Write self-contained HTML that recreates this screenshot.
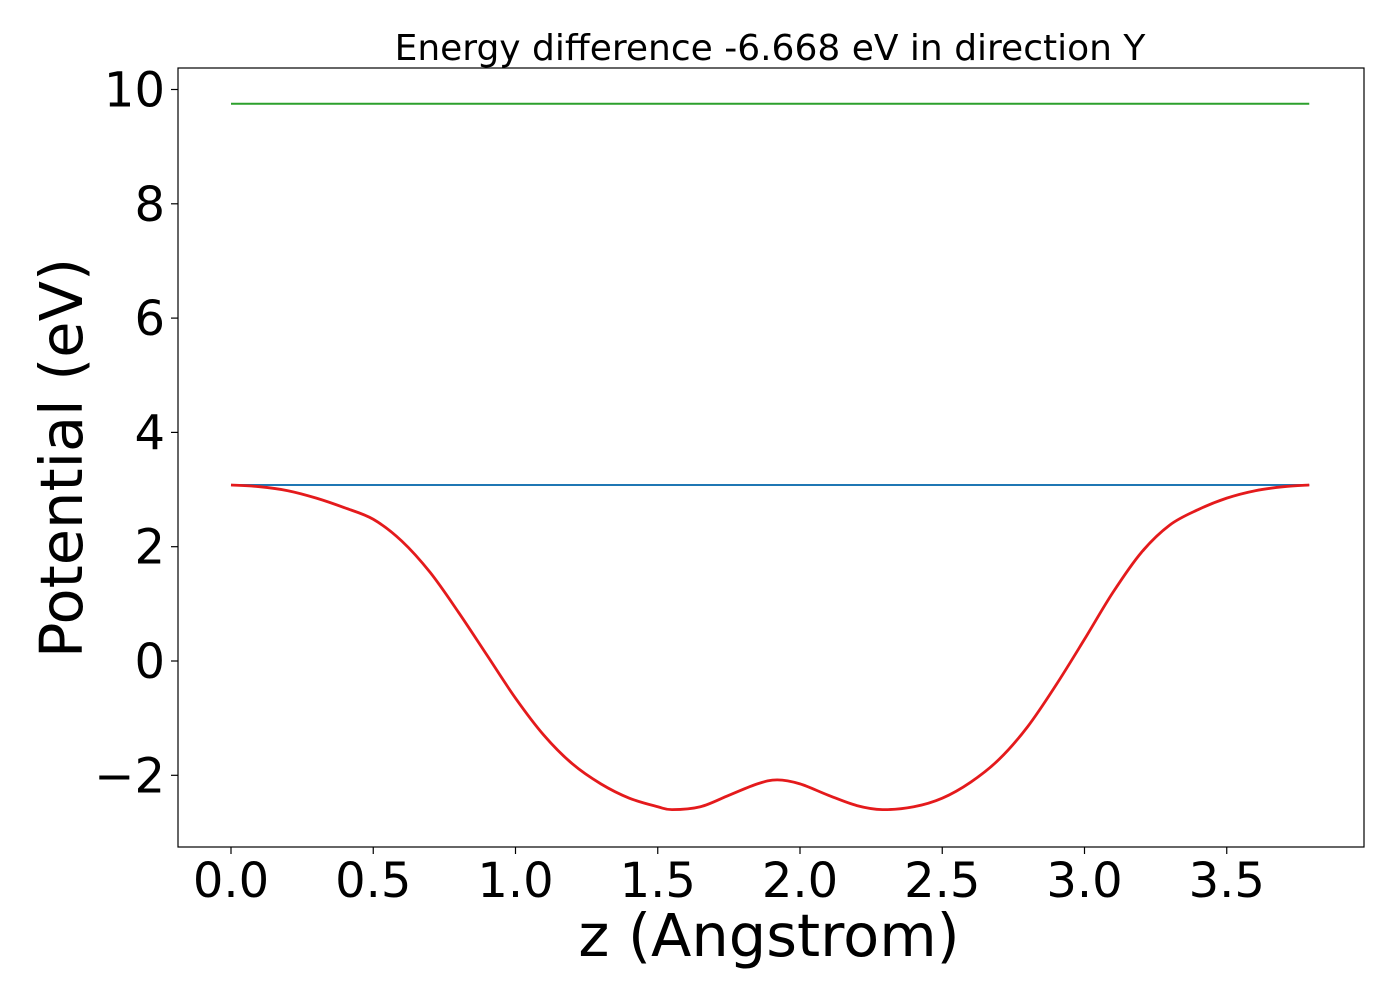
<!DOCTYPE html>
<html><head><meta charset="utf-8"><style>
html,body{margin:0;padding:0;background:#fff;}
svg{display:block;font-family:"DejaVu Sans","Liberation Sans",sans-serif;}
</style></head><body>
<svg id="chart" width="1400" height="1000">
<rect x="0" y="0" width="1400" height="1000" fill="#fff"/>
<text x="770" y="60" font-size="36" text-anchor="middle">Energy difference -6.668 eV in direction Y</text>
<g id="marks"></g>
<rect x="178" y="68" width="1186" height="779" fill="none" stroke="#000" stroke-width="1.2"/>
<g id="ticks"></g>
<text x="769" y="956" font-size="59" text-anchor="middle">z (Angstrom)</text>
<text transform="translate(82,458) rotate(-90)" font-size="59" text-anchor="middle">Potential (eV)</text>
</svg>
<script>
const zValues=[0,0.1,0.2,0.3,0.4,0.5,0.6,0.7,0.8,0.9,1.0,1.1,1.2,1.3,1.4,1.5,1.55,1.65,1.75,1.85,1.92,2.0,2.1,2.2,2.29,2.4,2.5,2.6,2.7,2.8,2.9,3.0,3.1,3.2,3.3,3.4,3.5,3.6,3.7,3.79];
const potential=[3.08,3.05,2.98,2.85,2.68,2.48,2.1,1.55,0.85,0.1,-0.65,-1.3,-1.8,-2.15,-2.4,-2.55,-2.6,-2.55,-2.35,-2.15,-2.08,-2.15,-2.35,-2.53,-2.6,-2.55,-2.4,-2.12,-1.72,-1.15,-0.42,0.38,1.2,1.9,2.38,2.65,2.85,2.98,3.05,3.08];
const blueLevel=3.08;
const greenLevel=9.75;
const xTicks=[0.0,0.5,1.0,1.5,2.0,2.5,3.0,3.5];
const yTicks=[-2,0,2,4,6,8,10];
const NS="http://www.w3.org/2000/svg";
function xs(v){return 231+v*284.5;}
function ys(v){return 661-v*57.15;}
const marks=document.getElementById('marks');
const ticks=document.getElementById('ticks');
function hline(val,color,name){
  const l=document.createElementNS(NS,'line');
  l.setAttribute('x1',xs(zValues[0]));l.setAttribute('x2',xs(zValues[zValues.length-1]));
  l.setAttribute('y1',ys(val));l.setAttribute('y2',ys(val));
  l.setAttribute('stroke',color);l.setAttribute('stroke-width','2');
  
  
  marks.appendChild(l);
}
hline(greenLevel,'#2ca02c','green-level-line');
hline(blueLevel,'#1f77b4','blue-level-line');
const pts=zValues.map((z,i)=>[xs(z),ys(potential[i])]);
let d='M'+pts[0][0]+','+pts[0][1];
for(let i=0;i<pts.length-1;i++){
  const p0=pts[Math.max(0,i-1)],p1=pts[i],p2=pts[i+1],p3=pts[Math.min(pts.length-1,i+2)];
  const c1x=p1[0]+(p2[0]-p0[0])/6,c1y=p1[1]+(p2[1]-p0[1])/6;
  const c2x=p2[0]-(p3[0]-p1[0])/6,c2y=p2[1]-(p3[1]-p1[1])/6;
  d+=' C'+c1x+','+c1y+' '+c2x+','+c2y+' '+p2[0]+','+p2[1];
}
const p=document.createElementNS(NS,'path');
p.setAttribute('d',d);
p.setAttribute('fill','none');p.setAttribute('stroke','#e41a1c');p.setAttribute('stroke-width','2.8');


marks.appendChild(p);
xTicks.forEach(t=>{
  const l=document.createElementNS(NS,'line');
  l.setAttribute('x1',xs(t));l.setAttribute('x2',xs(t));l.setAttribute('y1',847);l.setAttribute('y2',854);
  l.setAttribute('stroke','#000');l.setAttribute('stroke-width','1.2');
  
  
  ticks.appendChild(l);
  const tx=document.createElementNS(NS,'text');
  tx.setAttribute('x',xs(t));tx.setAttribute('y',897);tx.setAttribute('font-size','48');tx.setAttribute('text-anchor','middle');
  tx.textContent=t.toFixed(1);
  
  
  ticks.appendChild(tx);
});
yTicks.forEach(t=>{
  const l=document.createElementNS(NS,'line');
  l.setAttribute('x1',171);l.setAttribute('x2',178);l.setAttribute('y1',ys(t));l.setAttribute('y2',ys(t));
  l.setAttribute('stroke','#000');l.setAttribute('stroke-width','1.2');
  
  
  ticks.appendChild(l);
  const tx=document.createElementNS(NS,'text');
  tx.setAttribute('x',165);tx.setAttribute('y',ys(t)+17);tx.setAttribute('font-size','48');tx.setAttribute('text-anchor','end');
  tx.textContent=t<0?'\u2212'+Math.abs(t):String(t);
  
  
  ticks.appendChild(tx);
});
</script>
</body></html>
